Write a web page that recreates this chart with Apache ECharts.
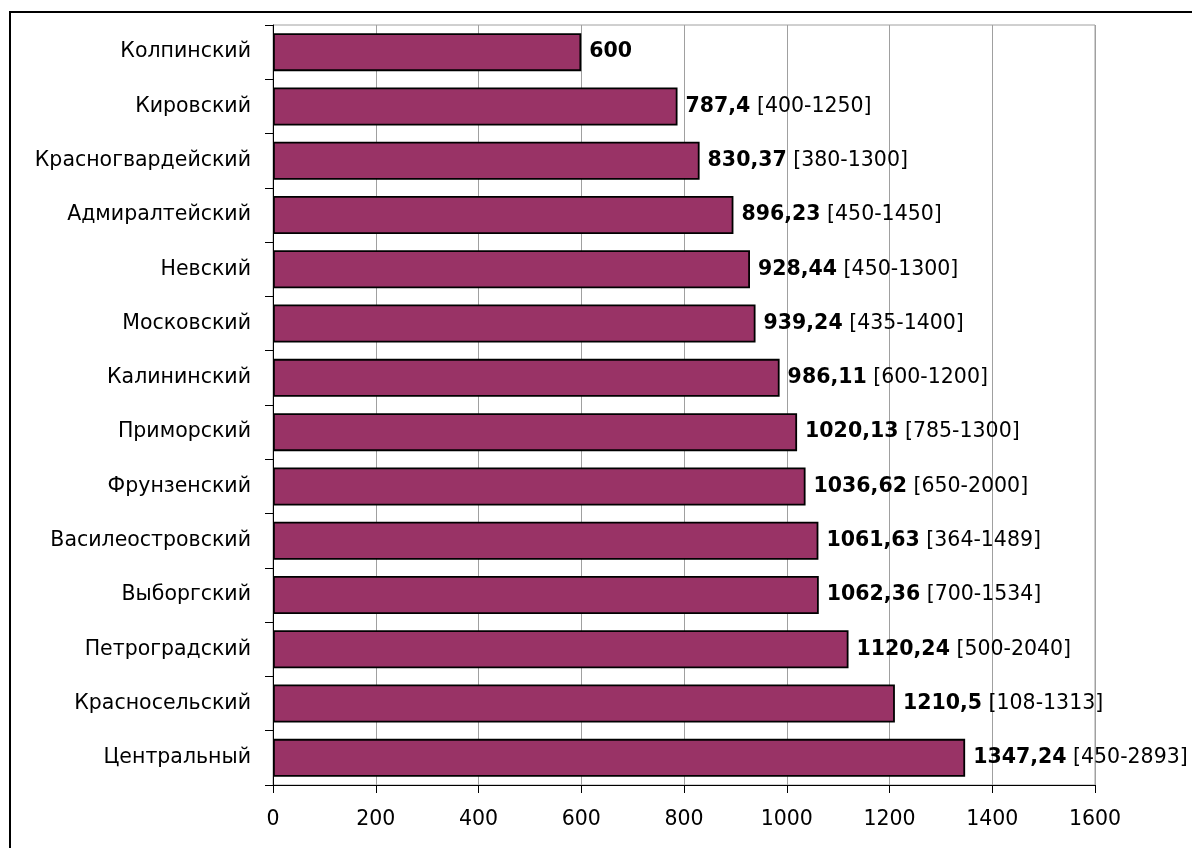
<!DOCTYPE html>
<html>
<head>
<meta charset="utf-8">
<script src="https://cdn.jsdelivr.net/npm/echarts@6/dist/echarts.min.js"></script>
<style>
  html, body { margin: 0; padding: 0; background: #fff; }
  #chart { width: 1192px; height: 848px; }
</style>
</head>
<body>
<div id="chart"></div>
<script>
// Районы Санкт-Петербурга: средняя величина и диапазон значений
const districts = [
  'Колпинский', 'Кировский', 'Красногвардейский', 'Адмиралтейский', 'Невский',
  'Московский', 'Калининский', 'Приморский', 'Фрунзенский', 'Василеостровский',
  'Выборгский', 'Петроградский', 'Красносельский', 'Центральный'
];
const averages = [
  600, 787.4, 830.37, 896.23, 928.44,
  939.24, 986.11, 1020.13, 1036.62, 1061.63,
  1062.36, 1120.24, 1210.5, 1347.24
];
const ranges = [
  '', '400-1250', '380-1300', '450-1450', '450-1300',
  '435-1400', '600-1200', '785-1300', '650-2000', '364-1489',
  '700-1534', '500-2040', '108-1313', '450-2893'
];
const xTicks = { min: 0, max: 1600, interval: 200 };

const FONT = 'DejaVu Sans';
const FS = 20.5;

const chart = echarts.init(document.getElementById('chart'), null, { renderer: 'canvas' });

chart.setOption({
  animation: false,
  backgroundColor: '#ffffff',
  textStyle: { fontFamily: FONT },
  graphic: [{
    type: 'rect',
    shape: { x: 10, y: 12, width: 1400, height: 1000 },
    style: { fill: 'none', stroke: '#000', lineWidth: 2 },
    silent: true
  }],
  grid: {
    left: 273, right: 97, top: 25, bottom: 63,
    show: true, borderColor: '#a0a0a0', borderWidth: 1, backgroundColor: 'transparent'
  },
  xAxis: {
    type: 'value',
    min: xTicks.min, max: xTicks.max, interval: xTicks.interval,
    axisLine: { show: true, lineStyle: { color: '#000', width: 1 } },
    axisTick: { show: true, length: 8, lineStyle: { color: '#000' } },
    axisLabel: {
      color: '#000', fontSize: FS, fontFamily: FONT, margin: 24,
      formatter: function (v) { return String(v); }
    },
    splitLine: { show: true, lineStyle: { color: '#a0a0a0', width: 1 } }
  },
  yAxis: {
    type: 'category',
    inverse: true,
    data: districts,
    axisLine: { show: true, lineStyle: { color: '#000', width: 1 } },
    axisTick: { show: true, length: 8, lineStyle: { color: '#000' } },
    axisLabel: { color: '#000', fontSize: FS, fontFamily: FONT, margin: 22 },
    splitLine: { show: false }
  },
  series: [{
    type: 'bar',
    data: averages,
    barCategoryGap: '30%',
    itemStyle: { color: '#993366', borderColor: '#000', borderWidth: 1.8 },
    label: {
      show: true,
      position: 'right',
      distance: 8,
      formatter: function (p) {
        const v = String(p.value).replace('.', ',');
        const r = ranges[p.dataIndex];
        return r ? '{v|' + v + '}{r| [' + r + ']}' : '{v|' + v + '}';
      },
      rich: {
        v: { fontWeight: 'bold', fontSize: FS, fontFamily: FONT, color: '#000' },
        r: { fontWeight: 'normal', fontSize: FS, fontFamily: FONT, color: '#000' }
      }
    }
  }]
});
</script>
</body>
</html>
